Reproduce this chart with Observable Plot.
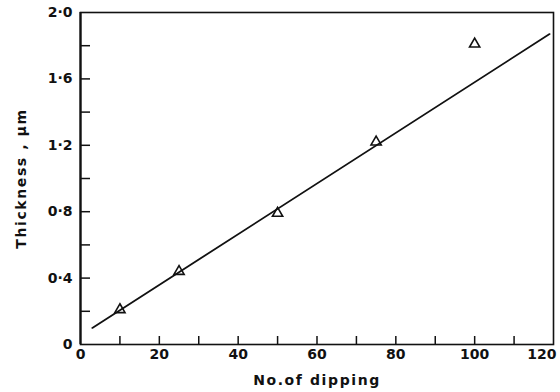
<!DOCTYPE html>
<html>
<head>
<meta charset="utf-8">
<script src="https://cdn.jsdelivr.net/npm/d3@7"></script>
<script src="https://cdn.jsdelivr.net/npm/@observablehq/plot@0.6"></script>
<style>
  html, body { margin: 0; padding: 0; background: #fff; }
  #chart svg { display: block; }
  #chart g[aria-label="x-axis label"] text,
  #chart g[aria-label="y-axis label"] text { font-size: 14px; letter-spacing: 1.6px; }
</style>
</head>
<body>
<div id="chart"></div>
<script>
// Measured points (triangles)
const dipCount = [10, 25, 50, 75, 100];
const thickness = [0.21, 0.44, 0.79, 1.22, 1.81];

// Fitted straight line (end points)
const fitX = [3, 119];
const fitY = [0.10, 1.87];

// Axis ticks and labels
const xTicks = [10, 20, 30, 40, 50, 60, 70, 80, 90, 100, 110];
const xLabelTicks = [0, 20, 40, 60, 80, 100];
const xLastLabel = [120];
const yTicks = [0.2, 0.4, 0.6, 0.8, 1.0, 1.2, 1.4, 1.6, 1.8];
const yLabelTicks = [0, 0.4, 0.8, 1.2, 1.6, 2.0];
const yLabelText = ["0", "0\u00b74", "0\u00b78", "1\u00b72", "1\u00b76", "2\u00b70"];

const points = dipCount.map((d, i) => ({n: d, t: thickness[i]}));
const fit = fitX.map((d, i) => ({n: d, t: fitY[i]}));
const W = 560, H = 392;
const mL = 80, mR = 7, mT = 12, mB = 48;
const innerW = W - mL - mR, innerH = H - mT - mB;

const chart = Plot.plot({
  width: W,
  height: H,
  marginLeft: mL,
  marginRight: mR,
  marginTop: mT,
  marginBottom: mB,
  style: {fontFamily: "'DejaVu Sans', sans-serif", fontSize: "14px", fontWeight: "bold", color: "#111", background: "#fff"},
  x: {domain: [0, 120]},
  y: {domain: [0, 2.0]},
  marks: [
    Plot.frame({stroke: "#111", strokeWidth: 1.6}),
    Plot.ruleX([0], {stroke: "#111", strokeWidth: 2.2}),
    Plot.tickY(yTicks, {y: d => d, stroke: "#111", strokeWidth: 1.5, insetRight: innerW - 10}),
    Plot.tickX(xTicks, {x: d => d, stroke: "#111", strokeWidth: 1.5, insetTop: innerH - 8}),
    Plot.axisY(yLabelTicks, {
      tickSize: 0, tickPadding: 8,
      tickFormat: d => yLabelText[yLabelTicks.indexOf(d)],
      label: "Thickness , \u03bcm", labelAnchor: "center", labelOffset: 64, labelArrow: "none"
    }),
    Plot.axisX(xLabelTicks, {
      tickSize: 0, tickPadding: 5,
      label: "No.of dipping", labelAnchor: "center", labelOffset: 40, labelArrow: "none"
    }),
    Plot.axisX(xLastLabel, {
      tickSize: 0, tickPadding: 5, textAnchor: "end", dx: 3, label: null
    }),
    Plot.line(fit, {x: "n", y: "t", stroke: "#111", strokeWidth: 1.8}),
    Plot.dot(points, {x: "n", y: "t", symbol: "triangle", r: 3.8, stroke: "#111", strokeWidth: 1.6, fill: "none"})
  ]
});
document.getElementById("chart").appendChild(chart);
</script>
</body>
</html>
